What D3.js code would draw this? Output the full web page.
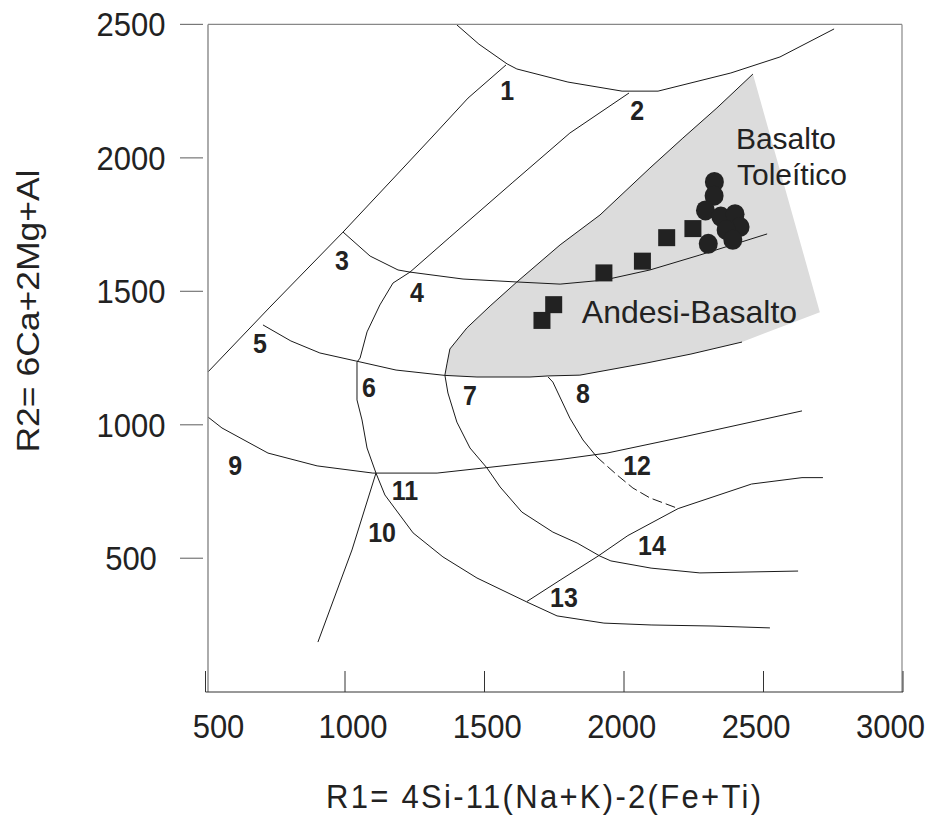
<!DOCTYPE html>
<html>
<head>
<meta charset="utf-8">
<script src="https://cdn.jsdelivr.net/npm/d3@7"></script>
<style>
  body { margin: 0; background: #fff; }
  svg { display: block; font-family: "Liberation Sans", Arial, sans-serif; }
  .curve { fill: none; stroke: #1a1a1a; stroke-width: 1; }
  .dashed { stroke-dasharray: 10,4; }
  .field { fill: #dcdcdc; stroke: none; }
  .num { font-weight: bold; font-size: 25px; fill: #222; }
  .region { font-size: 31px; fill: #222; }
  .tick-label { font-size: 31px; fill: #222; }
  .title { font-size: 31px; fill: #222; }
</style>
</head>
<body>
<div id="chart"></div>
<script>
// ticks
var r1Ticks = [500, 1000, 1500, 2000, 2500, 3000];
var r2Ticks = [500, 1000, 1500, 2000, 2500];

// samples [R1, R2]
var andesiteBasalt = [[1706, 1391], [1748, 1450], [1928, 1569], [2066, 1613], [2153, 1701], [2247, 1735]];
var tholeiite = [[2324, 1910], [2323, 1858], [2292, 1803], [2347, 1780], [2398, 1789],
                 [2416, 1741], [2366, 1730], [2390, 1693], [2302, 1678]];

// field boundaries [R1, R2]
var lineTop = [[1401, 2498], [1480, 2426], [1581, 2352], [1616, 2333], [1799, 2284], [1993, 2250],
               [2122, 2250], [2383, 2318], [2559, 2378], [2753, 2483]];
var line1 = [[1577, 2348], [1441, 2224], [1312, 2078], [1168, 1917], [993, 1722], [731, 1441], [509, 1198]];
var line2 = [[2018, 2243], [1806, 2093], [1599, 1906], [1376, 1703], [1233, 1572], [1172, 1531], [1125, 1449],
             [1079, 1348], [1054, 1250], [1043, 1235], [1043, 1093], [1061, 1018], [1079, 913], [1111, 819],
             [1143, 737], [1244, 595], [1351, 505], [1473, 426], [1652, 336], [1760, 284], [1928, 257],
             [2097, 250], [2319, 246], [2523, 239]];
var line3 = [[993, 1722], [1090, 1632], [1190, 1580], [1233, 1572], [1423, 1546], [1616, 1535], [1771, 1527],
             [1928, 1542], [2093, 1580], [2272, 1636], [2513, 1715]];
var line5 = [[706, 1374], [806, 1314], [910, 1269], [1039, 1239], [1183, 1205], [1358, 1185], [1473, 1179],
             [1663, 1179], [1728, 1183], [1842, 1186], [2079, 1231], [2240, 1265], [2423, 1310]];
var line7 = [[2462, 2314], [2333, 2187], [2211, 2074], [2093, 1962], [1914, 1786], [1771, 1674], [1616, 1535],
             [1520, 1445], [1437, 1363], [1376, 1284], [1366, 1231], [1358, 1186], [1369, 1119], [1401, 1010],
             [1448, 913], [1509, 838], [1556, 767], [1634, 673], [1745, 598], [1832, 557], [1914, 508],
             [1953, 490], [2097, 463], [2272, 445], [2624, 452]];
var line8 = [[1728, 1179], [1745, 1160], [1806, 1025], [1853, 943], [1903, 879]];
var line12 = [[1903, 879], [1975, 812], [2032, 763], [2093, 726], [2190, 688]];
var line9 = [[509, 1029], [559, 988], [724, 894], [900, 846], [1100, 819], [1330, 819], [1495, 838],
             [1771, 870], [1939, 894], [2211, 954], [2638, 1052]];
var line10 = [[1111, 819], [1025, 531], [903, 186]];
var line13 = [[1652, 338], [1771, 418], [1907, 508], [2014, 585], [2194, 686], [2457, 778], [2638, 802], [2713, 802]];

// shaded field: upper part of line 7, line 5, right corner
var fieldCorner = [2702, 1422];

// field numbers
var fieldNumbers = [
  {t: "1", r1: 1581, r2: 2254}, {t: "2", r1: 2047, r2: 2179}, {t: "3", r1: 989, r2: 1617},
  {t: "4", r1: 1258, r2: 1497}, {t: "5", r1: 695, r2: 1306}, {t: "6", r1: 1086, r2: 1142},
  {t: "7", r1: 1448, r2: 1112}, {t: "8", r1: 1853, r2: 1119}, {t: "9", r1: 606, r2: 849},
  {t: "10", r1: 1133, r2: 598}, {t: "11", r1: 1215, r2: 756}, {t: "12", r1: 2047, r2: 849},
  {t: "13", r1: 1785, r2: 355}, {t: "14", r1: 2100, r2: 550}
];
var regionNames = [
  {t: "Basalto", r1: 2401, r2: 2035, size: 30},
  {t: "Toleítico", r1: 2405, r2: 1900, size: 30},
  {t: "Andesi-Basalto", r1: 1849, r2: 1381, size: 32}
];

var width = 926, height = 815;
var frame = {left: 208, right: 902, top: 24.4, bottom: 692};

var x = d3.scaleLinear().domain([500, 3000]).range([205.5, 903]);
var y = d3.scaleLinear().domain([0, 2500]).range([691.7, 24.4]);
var xLabel = d3.scaleLinear().domain([500, 3000]).range([218, 890]);

var svg = d3.select("#chart").append("svg")
  .attr("width", width)
  .attr("height", height);

var line = d3.line()
  .x(function(d) { return x(d[0]); })
  .y(function(d) { return y(d[1]); });

// shaded field
var upper7 = line7.slice(0, line7.findIndex(function(d) { return d[0] === 1358; }) + 1);
var fieldPoly = upper7.concat(line5.slice(5)).concat([fieldCorner]);
svg.append("path")
  .attr("class", "field")
  .attr("d", line(fieldPoly) + "Z");

// curves
[lineTop, line1, line2, line3, line5, line7, line8, line9, line10, line13].forEach(function(c) {
  svg.append("path").attr("class", "curve").attr("d", line(c));
});
svg.append("path").attr("class", "curve dashed").attr("d", line(line12));

// frame
svg.append("line").attr("x1", frame.left).attr("x2", frame.right).attr("y1", frame.top).attr("y2", frame.top)
  .attr("stroke", "#888").attr("stroke-width", 1.2);
svg.append("line").attr("x1", frame.left).attr("x2", frame.left).attr("y1", frame.top).attr("y2", frame.bottom)
  .attr("stroke", "#888").attr("stroke-width", 1.4);
svg.append("line").attr("x1", frame.right).attr("x2", frame.right).attr("y1", frame.top).attr("y2", frame.bottom)
  .attr("stroke", "#888").attr("stroke-width", 1.2);
svg.append("line").attr("x1", x(500)).attr("x2", x(3000)).attr("y1", frame.bottom).attr("y2", frame.bottom)
  .attr("stroke", "#333").attr("stroke-width", 1);

// x axis: inward ticks
svg.selectAll(".xtick").data(r1Ticks).enter().append("line")
  .attr("class", "xtick")
  .attr("x1", function(d) { return x(d); }).attr("x2", function(d) { return x(d); })
  .attr("y1", frame.bottom - 21).attr("y2", frame.bottom)
  .attr("stroke", "#333").attr("stroke-width", 1);

var xAxis = d3.axisBottom(xLabel).tickValues(r1Ticks).tickSize(0).tickPadding(0).tickFormat(d3.format("d"));
var gx = svg.append("g").attr("transform", "translate(0,738)").call(xAxis);
gx.select(".domain").remove();
gx.selectAll("text").attr("class", "tick-label").attr("dy", 0).attr("y", 0)
  .attr("transform", "scale(1,1.08)")
  .attr("font-family", null).attr("font-size", null).attr("fill", null);

// y axis: outer ticks, detached from frame
svg.selectAll(".ytick").data(r2Ticks).enter().append("line")
  .attr("class", "ytick")
  .attr("x1", 180).attr("x2", 203)
  .attr("y1", function(d) { return y(d); }).attr("y2", function(d) { return y(d); })
  .attr("stroke", "#777").attr("stroke-width", 1.2);
svg.selectAll(".ylab").data(r2Ticks).enter().append("text")
  .attr("class", "tick-label")
  .attr("transform", function(d) { return "translate(131," + y(d) + ") scale(1,1.06)"; })
  .attr("dy", "0.36em")
  .attr("text-anchor", "middle")
  .text(function(d) { return d; });

// samples
var sq = 17;
svg.selectAll(".sq").data(andesiteBasalt).enter().append("rect")
  .attr("x", function(d) { return x(d[0]) - sq / 2; })
  .attr("y", function(d) { return y(d[1]) - sq / 2; })
  .attr("width", sq).attr("height", sq)
  .attr("fill", "#222");
svg.selectAll(".dot").data(tholeiite).enter().append("ellipse")
  .attr("cx", function(d) { return x(d[0]); })
  .attr("cy", function(d) { return y(d[1]); })
  .attr("rx", 9.5).attr("ry", 10)
  .attr("fill", "#222");

// labels
svg.selectAll(".num").data(fieldNumbers).enter().append("text")
  .attr("class", "num")
  .attr("transform", function(d) { return "translate(" + x(d.r1) + "," + y(d.r2) + ") scale(1,1.12)"; })
  .attr("dy", "0.36em")
  .attr("text-anchor", "middle")
  .text(function(d) { return d.t; });
svg.selectAll(".region").data(regionNames).enter().append("text")
  .attr("class", "region")
  .attr("transform", function(d) { return "translate(" + x(d.r1) + "," + y(d.r2) + ")"; })
  .style("font-size", function(d) { return d.size + "px"; })
  .text(function(d) { return d.t; });

// axis titles
svg.append("text").attr("class", "title")
  .attr("transform", "translate(543.5,808) scale(1,1.05)")
  .attr("text-anchor", "middle")
  .attr("textLength", 435).attr("lengthAdjust", "spacing")
  .text("R1= 4Si-11(Na+K)-2(Fe+Ti)");
svg.append("text").attr("class", "title")
  .attr("transform", "translate(38.5,311) rotate(-90)")
  .attr("text-anchor", "middle")
  .style("font-size", "32px")
  .attr("textLength", 283).attr("lengthAdjust", "spacingAndGlyphs")
  .text("R2= 6Ca+2Mg+Al");
</script>
</body>
</html>
